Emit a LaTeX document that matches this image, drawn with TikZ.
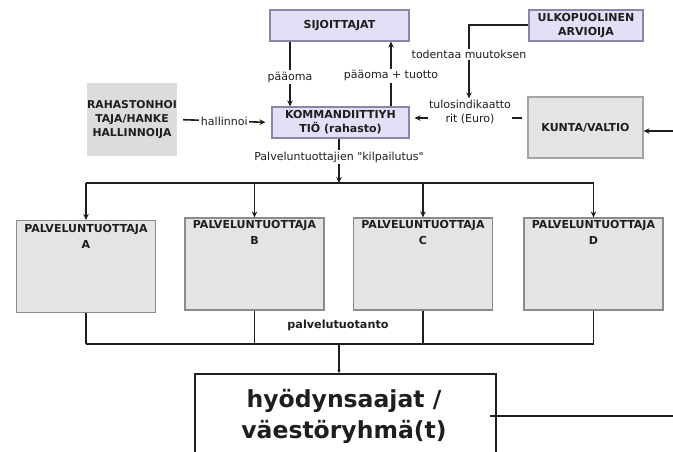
\documentclass[tikz,border=0pt]{standalone}
\usepackage{fontspec}
\setmainfont{DejaVu Sans}[Ligatures=TeXOff]
\usetikzlibrary{arrows.meta,calc}
\definecolor{lav}{HTML}{E4DEF6}
\definecolor{lavline}{HTML}{8A86A8}
\definecolor{gbox}{HTML}{E4E4E4}
\definecolor{gline}{HTML}{A4A4A4}
\definecolor{rahfill}{HTML}{DCDCDC}
\definecolor{ink}{HTML}{1E1E1E}
\tikzset{
  purplebox/.style={draw=lavline, line width=1.2pt, fill=lav, align=center, inner sep=1pt,
    font=\bfseries\fontsize{11}{14}\selectfont, text=ink},
  greybox/.style={draw=gline, line width=1.2pt, fill=gbox, align=center, inner sep=1pt,
    font=\bfseries\fontsize{11}{14}\selectfont, text=ink},
  provbox/.style={draw=gline!85!black, line width=1.2pt, fill=gbox, minimum width=139pt, minimum height=92pt},
  provtext/.style={font=\bfseries\fontsize{11}{16}\selectfont, align=center, text=ink, anchor=north, inner sep=0pt},
  lbl/.style={fill=white, inner sep=1.5pt, font=\fontsize{11}{14}\selectfont, text=ink, align=center},
  conn/.style={draw=ink, line width=1.6pt},
  arr/.style={conn, -{Stealth[length=6pt,width=5.5pt]}},
  smallarr/.style={conn, -{Stealth[length=3pt,width=3pt]}},
}
\begin{document}
\begin{tikzpicture}[x=1pt,y=-1pt]
\useasboundingbox (0,0) rectangle (673,451);
\begin{scope}
\clip (0,0) rectangle (673,451);

% top boxes
\node[purplebox, minimum width=139pt, minimum height=31pt] (sij) at (339.5,25.5) {SIJOITTAJAT};
\node[purplebox, minimum width=137pt, minimum height=31pt] (kom) at (340.5,122.5) {KOMMANDIITTIYH\\TIÖ (rahasto)};
\node[fill=rahfill, align=center, inner sep=0pt, minimum width=90pt, minimum height=73pt,
  font=\bfseries\fontsize{10.8}{14}\selectfont, text=ink] (rah) at (132,119.5) {RAHASTONHOI\\TAJA/HANKE\\HALLINNOIJA};
\node[purplebox, minimum width=114pt, minimum height=31pt] (ulk) at (586,25.5) {ULKOPUOLINEN\\ARVIOIJA};
\node[greybox, minimum width=115pt, minimum height=61pt] (kun) at (585.5,127.5) {KUNTA/VALTIO};

% provider boxes
\node[provbox] (pa) at (86,266.5) {};
\node[provbox] (pb) at (254.5,264) {};
\node[provbox] (pc) at (423,264) {};
\node[provbox] (pd) at (593.5,264) {};
\node[provtext] (ta) at ($(pa.north)+(0,4)$) {PALVELUNTUOTTAJA\\A};
\node[provtext] (tb) at ($(pb.north)+(0,3)$) {PALVELUNTUOTTAJA\\B};
\node[provtext] (tc) at ($(pc.north)+(0,3)$) {PALVELUNTUOTTAJA\\C};
\node[provtext] (td) at ($(pd.north)+(0,3)$) {PALVELUNTUOTTAJA\\D};

% beneficiaries
\node[draw=ink, line width=1.6pt, fill=white, minimum width=301pt, minimum height=100pt, anchor=north] (hyo) at (345.5,373) {};
\node[font=\bfseries\fontsize{23.5}{31}\selectfont, text=ink, align=center] (hyot) at (344,416) {hyödynsaajat /\\väestöryhmä(t)};

% connectors top
\draw[arr] (sij.south -| 290,0) -- node[lbl, pos=0.55] (l1) {pääoma} (kom.north -| 290,0);
\draw[arr] (kom.north -| 391,0) -- node[lbl, pos=0.47] (l2) {pääoma + tuotto} (sij.south -| 391,0);
\draw[arr, shorten <=6pt, shorten >=6pt] (rah.east) -- node[lbl] (l3) {hallinnoi} (kom.west);

\coordinate (rowk) at (0,118);
\draw[arr, shorten <=5pt, shorten >=5pt] (kun.west |- rowk) -- (kom.east |- rowk);
\node[lbl] (tul) at (470,112) {tulosindikaatto\\rit (Euro)};
\coordinate (ulkc) at (469,25);
\draw[arr] (ulk.west |- ulkc) -- (ulkc) -- node[lbl, pos=0.4] (l4) {todentaa muutoksen} (tul.north -| ulkc);

% distribution
\coordinate (bartop) at (339,183);
\draw[arr] (kom.south -| bartop) -- node[lbl, pos=0.42] (l5) {Palveluntuottajien "kilpailutus"} (bartop);
\draw[conn] (86,183) -- (593.5,183);
\draw[arr] (86,183) -- (pa.north);
\draw[arr] (254.5,183) -- (pb.north);
\draw[arr] (423,183) -- (pc.north);
\draw[arr] (593.5,183) -- (pd.north);

% collection
\coordinate (barbot) at (339,344);
\draw[conn] (pa.south) -- (86,344);
\draw[conn] (pb.south) -- (254.5,344);
\draw[conn] (pc.south) -- (423,344);
\draw[conn] (pd.south) -- (593.5,344);
\draw[conn] (86,344) -- (593.5,344);
\node[font=\bfseries\fontsize{11.2}{14}\selectfont, text=ink] (l6) at (338,325) {palvelutuotanto};
\draw[smallarr] (barbot) -- (hyo.north -| barbot);

% feedback to KUNTA/VALTIO (runs off the picture)
\coordinate (fbs) at (490,416);
\coordinate (fb1) at (690,416);
\coordinate (fb2) at (690,131);
\draw[arr] (fbs) -- (fb1) -- (fb2) -- (kun.east |- fb2);
\end{scope}
\end{tikzpicture}
\end{document}
